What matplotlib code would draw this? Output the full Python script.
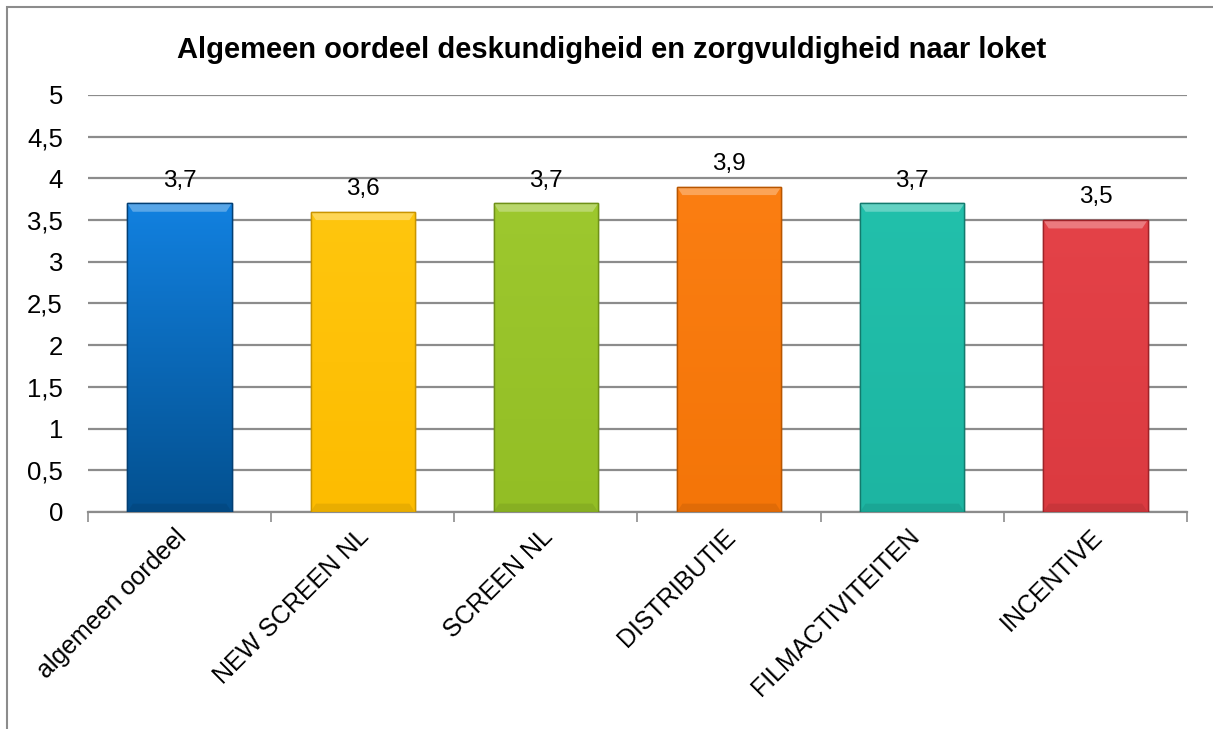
import numpy as np
import matplotlib.pyplot as plt
from matplotlib.colors import LinearSegmentedColormap
from matplotlib.patches import Rectangle, Polygon

categories = ['algemeen oordeel', 'NEW SCREEN NL', 'SCREEN NL', 'DISTRIBUTIE',
              'FILMACTIVITEITEN', 'INCENTIVE']
values = [3.7, 3.6, 3.7, 3.9, 3.7, 3.5]
value_labels = ['3,7', '3,6', '3,7', '3,9', '3,7', '3,5']
yticks = [0, 0.5, 1, 1.5, 2, 2.5, 3, 3.5, 4, 4.5, 5]
ytick_labels = ['0', '0,5', '1', '1,5', '2', '2,5', '3', '3,5', '4', '4,5', '5']

# top colour, bottom colour, edge colour
top_colors = ['#1281E0', '#FFC60E', '#9DC82E', '#FB7E12', '#22C0AB', '#E44248']
bottom_colors = ['#03508F', '#FDBC00', '#93BE25', '#F47508', '#1DB5A2', '#DB3A40']
edge_colors = ['#033F73', '#C99400', '#6F9118', '#B85600', '#137A6D', '#9E2328']

plt.rcParams['font.family'] = ['Liberation Sans', 'DejaVu Sans']

fig = plt.figure(figsize=(12.13, 7.29), dpi=100)
ax = fig.add_axes([0.0725, 0.2977, 0.9061, 0.572])

x = np.arange(len(categories))
width = 0.57
bars = ax.bar(x, values, width=width, color=bottom_colors, edgecolor=edge_colors,
              linewidth=1.0, zorder=3)

# gradient fill + bevel highlight on each bar
for b, c_top, c_bot in zip(bars, top_colors, bottom_colors):
    x0, y0 = b.get_x(), b.get_y()
    w, h = b.get_width(), b.get_height()
    cmap = LinearSegmentedColormap.from_list('g', [c_bot, c_top])
    grad = np.linspace(0, 1, 256).reshape(-1, 1)
    im = ax.imshow(grad, cmap=cmap, origin='lower', aspect='auto',
                   extent=(x0, x0 + w, y0, y0 + h), zorder=3.5)
    im.set_clip_path(b)
    bev = 0.03
    bevy = 0.1
    top = Polygon([(x0, y0 + h), (x0 + w, y0 + h), (x0 + w - bev, y0 + h - bevy),
                   (x0 + bev, y0 + h - bevy)], closed=True, facecolor='white',
                  alpha=0.3, edgecolor='none', zorder=4)
    bot = Polygon([(x0, y0), (x0 + w, y0), (x0 + w - bev, y0 + bevy),
                   (x0 + bev, y0 + bevy)], closed=True, facecolor='black',
                  alpha=0.08, edgecolor='none', zorder=4)
    ax.add_patch(top)
    ax.add_patch(bot)
    ax.add_patch(Rectangle((x0, y0), w, h, facecolor='none',
                           edgecolor=b.get_edgecolor(), linewidth=1.0, zorder=5))

for xi, v, lab in zip(x, values, value_labels):
    ax.text(xi, v + 0.2, lab, ha='center', va='baseline', fontsize=17.5, color='black')

ax.set_xlim(-0.5, len(categories) - 0.5)
ax.set_ylim(0, 5)
ax.set_yticks(yticks)
ax.set_yticklabels(ytick_labels, fontsize=18.5)
ax.tick_params(axis='y', length=0, pad=18)
ax.yaxis.grid(True, color='#8C8C8C', linewidth=1.6, zorder=0)
ax.set_axisbelow(True)

ax.set_xticks(np.arange(len(categories) + 1) - 0.5)
ax.set_xticklabels([])
ax.tick_params(axis='x', length=7, width=1.2, color='#8C8C8C', direction='out')
for xi, lab in zip(x, categories):
    ax.text(xi - 0.03, -0.15, lab, rotation=45, ha='right', va='top',
            rotation_mode='anchor', fontsize=18, transform=ax.transData)

for s in ['top', 'right', 'left']:
    ax.spines[s].set_visible(False)
ax.spines['bottom'].set_color('#8C8C8C')
ax.spines['bottom'].set_linewidth(1.6)

fig.text(0.504, 0.931, 'Algemeen oordeel deskundigheid en zorgvuldigheid naar loket',
         ha='center', va='center', fontsize=21, fontweight='bold')

# chart area frame
fig.patches.append(Rectangle((7 / 1213, -0.1), 1.2, 1 - 7 / 729 + 0.1,
                             transform=fig.transFigure, facecolor='none',
                             edgecolor='#8C8C8C', linewidth=1.5))

fig.savefig('out.png', dpi=100)
